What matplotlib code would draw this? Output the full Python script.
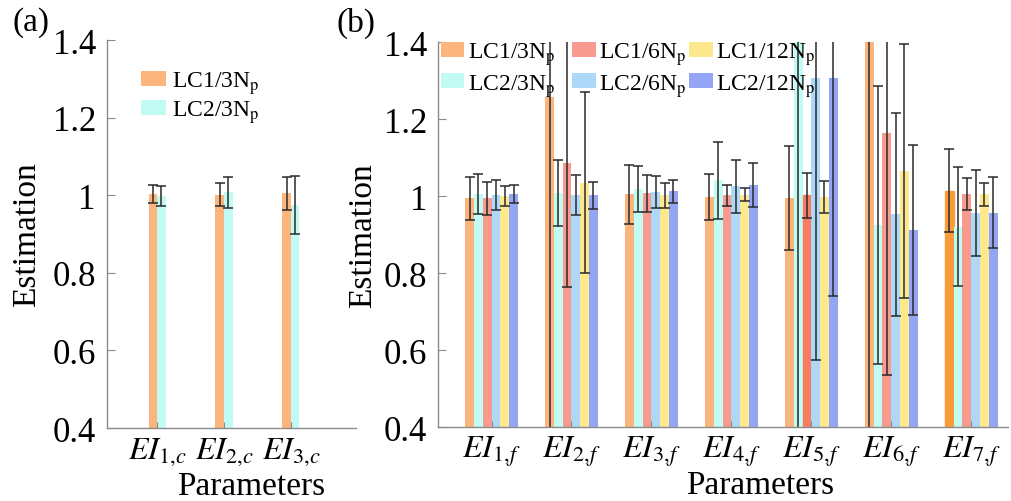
import numpy as np
import matplotlib
matplotlib.use("Agg")
import matplotlib.pyplot as plt

plt.rcParams['font.family'] = ['Liberation Serif', 'DejaVu Serif']
plt.rcParams['mathtext.fontset'] = 'stix'

# series labels and colours (same order as bars inside a group)
series = ["LC1/3N$_\\mathrm{p}$", "LC2/3N$_\\mathrm{p}$", "LC1/6N$_\\mathrm{p}$",
          "LC2/6N$_\\mathrm{p}$", "LC1/12N$_\\mathrm{p}$", "LC2/12N$_\\mathrm{p}$"]
colors = ["#fdb57e", "#c2fbf3", "#f99a8e", "#add8f8", "#fde88e", "#95a5f5"]

# panel (a)
params_a = ["$EI_{\\mathit{%d}{,}c}$" % i for i in range(1, 4)]
lc1_3_a = [1.003, 1.001, 1.005]
lc1_3_a_err = [0.024, 0.030, 0.043]
lc2_3_a = [0.998, 1.007, 0.975]
lc2_3_a_err = [0.025, 0.040, 0.074]

# panel (b)
params_b = ["$EI_{\\mathit{%d}{,}f}$" % i for i in range(1, 8)]
lc1_3 = [0.994, 1.257, 1.005, 0.998, 0.996, 1.600, 1.014]
lc1_3_err = [0.055, 0.900, 0.077, 0.060, 0.135, 1.300, 0.108]
lc2_3 = [1.005, 1.008, 1.018, 1.041, 1.600, 0.925, 0.921]
lc2_3_err = [0.052, 0.086, 0.060, 0.100, 1.300, 0.362, 0.155]
lc1_6 = [0.994, 1.085, 1.007, 1.002, 1.002, 1.163, 1.005]
lc1_6_err = [0.043, 0.320, 0.048, 0.027, 0.058, 0.629, 0.042]
lc2_6 = [1.003, 1.002, 1.011, 1.025, 1.306, 0.953, 0.957]
lc2_6_err = [0.039, 0.052, 0.042, 0.070, 0.733, 0.264, 0.112]
lc1_12 = [0.999, 1.035, 1.002, 1.004, 0.998, 1.064, 1.005]
lc1_12_err = [0.026, 0.236, 0.032, 0.016, 0.042, 0.330, 0.030]
lc2_12 = [1.005, 1.002, 1.012, 1.028, 1.308, 0.912, 0.957]
lc2_12_err = [0.024, 0.035, 0.030, 0.057, 0.568, 0.222, 0.093]

fig = plt.figure(figsize=(10.12, 5.02), dpi=100)
ax_a = fig.add_axes([0.1057, 0.1454, 0.2465, 0.7729])
ax_b = fig.add_axes([0.4328, 0.1474, 0.5632, 0.7666])

err_kw = dict(ecolor="#2a2a2a", elinewidth=1.1, capsize=3.5, capthick=1.1)


def style_axes(ax):
    for side in ["top", "right"]:
        ax.spines[side].set_visible(False)
    for side in ["left", "bottom"]:
        ax.spines[side].set_color("#8a8a8a")
        ax.spines[side].set_linewidth(1.0)
    ax.set_ylim(0.4, 1.4)
    ax.set_yticks([0.4, 0.6, 0.8, 1.0, 1.2, 1.4])
    ax.set_yticklabels(["0.4", "0.6", "0.8", "1", "1.2", "1.4"])
    ax.tick_params(axis="y", direction="in", length=6, color="#8a8a8a",
                   labelsize=25, pad=8)
    ax.tick_params(axis="x", direction="in", length=4, color="#8a8a8a",
                   labelsize=23, pad=5)
    ax.set_ylabel("Estimation", fontsize=24)


# (a)
xa = np.arange(1, len(params_a) + 1)
wa = 0.128
ax_a.bar(xa - wa / 2, lc1_3_a, wa, yerr=lc1_3_a_err, color=colors[0],
         label=series[0], error_kw=err_kw)
ax_a.bar(xa + wa / 2, lc2_3_a, wa, yerr=lc2_3_a_err, color=colors[1],
         label=series[1], error_kw=err_kw)
ax_a.set_xlim(0.25, 3.98)
ax_a.set_xticks(xa)
ax_a.set_xticklabels(params_a)
style_axes(ax_a)
ax_a.set_xlabel("Parameters", fontsize=24)
ax_a.xaxis.set_label_coords(0.578, -0.11)
ax_a.yaxis.set_label_coords(-0.26, 0.5)
ax_a.legend(loc="upper left", bbox_to_anchor=(0.1, 0.95), frameon=False,
            fontsize=17, handlelength=1.05, handleheight=0.6,
            handletextpad=0.25, labelspacing=0.1, borderaxespad=0)

# (b)
xb = np.arange(1, len(params_b) + 1)
wb = 0.11
vals = [lc1_3, lc2_3, lc1_6, lc2_6, lc1_12, lc2_12]
errs = [lc1_3_err, lc2_3_err, lc1_6_err, lc2_6_err, lc1_12_err, lc2_12_err]
bars = []
for i in range(6):
    b = ax_b.bar(xb + (i - 2.5) * wb, vals[i], wb, yerr=errs[i],
                 color=colors[i], label=series[i], error_kw=err_kw)
    bars.append(b)
# a couple of bars are drawn in a stronger shade in the original
bars[0][6].set_color("#fa9c3a")
bars[2][4].set_color("#f87c62")

ax_b.set_xlim(0.33, 7.46)
ax_b.set_xticks(xb)
ax_b.set_xticklabels(params_b)
style_axes(ax_b)
ax_b.set_xlabel("Parameters", fontsize=24)
ax_b.xaxis.set_label_coords(0.565, -0.11)
ax_b.yaxis.set_label_coords(-0.106, 0.5)

leg_kw = dict(frameon=False, fontsize=17, handlelength=1.0, handleheight=0.6,
              handletextpad=0.15, labelspacing=0.2, borderaxespad=0,
              borderpad=0, columnspacing=0.1)
leg1 = ax_b.legend(bars[:2], series[:2], loc="upper left",
                   bbox_to_anchor=(0.005, 1.005), ncol=1, **leg_kw)
ax_b.add_artist(leg1)
ax_b.legend(bars[2:], series[2:], loc="upper left",
            bbox_to_anchor=(0.235, 1.005), ncol=2, **leg_kw)

fig.text(0.012, 0.985, "(a)", fontsize=24, va="top", ha="left")
fig.text(0.333, 0.985, "(b)", fontsize=24, va="top", ha="left")

fig.savefig("out.png", dpi=100)
